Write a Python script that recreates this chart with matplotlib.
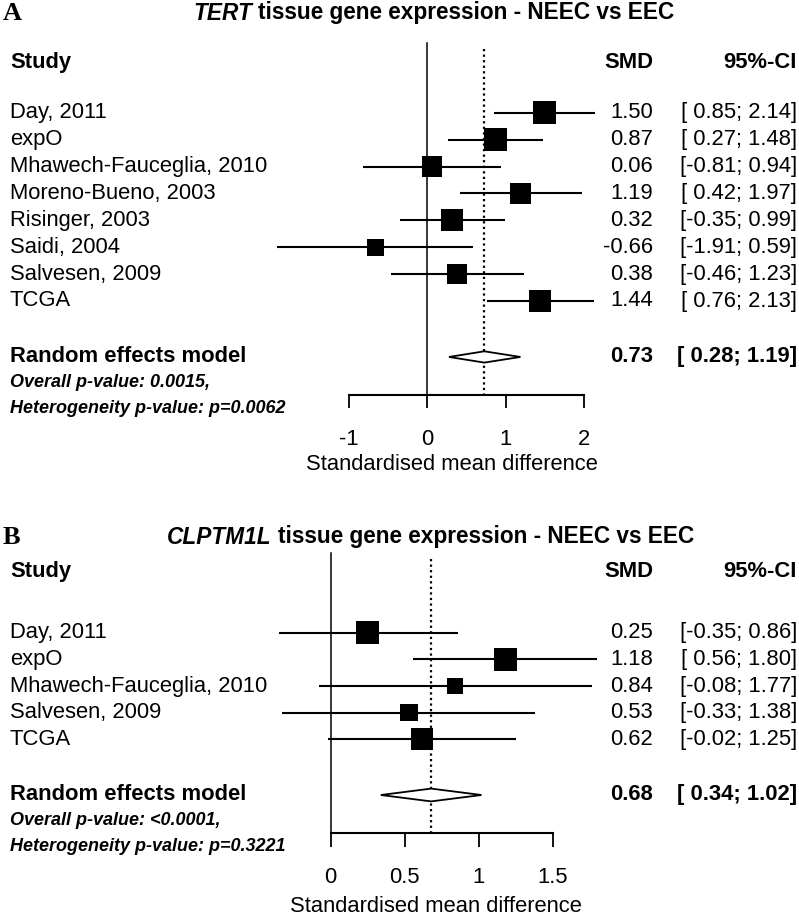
import matplotlib
matplotlib.use("Agg")
import matplotlib.pyplot as plt
import matplotlib.transforms as mtransforms
from matplotlib.patches import Polygon
import numpy as np

plt.rcParams['font.family'] = ['Liberation Sans', 'DejaVu Sans']

# ---- data: panel A (TERT) ----
studies_a = ["Day, 2011", "expO", "Mhawech-Fauceglia, 2010", "Moreno-Bueno, 2003",
             "Risinger, 2003", "Saidi, 2004", "Salvesen, 2009", "TCGA"]
smd_a = [1.50, 0.87, 0.06, 1.19, 0.32, -0.66, 0.38, 1.44]
lo_a = [0.85, 0.27, -0.81, 0.42, -0.35, -1.91, -0.46, 0.76]
hi_a = [2.14, 1.48, 0.94, 1.97, 0.99, 0.59, 1.23, 2.13]
weight_a = [14.4, 14.8, 11.2, 12.4, 13.6, 8.1, 11.6, 13.9]   # estimated %
model_a = (0.73, 0.28, 1.19)
pval_a = "0.0015"
het_a = "0.0062"
ticks_a = [-1, 0, 1, 2]

# ---- data: panel B (CLPTM1L) ----
studies_b = ["Day, 2011", "expO", "Mhawech-Fauceglia, 2010", "Salvesen, 2009", "TCGA"]
smd_b = [0.25, 1.18, 0.84, 0.53, 0.62]
lo_b = [-0.35, 0.56, -0.08, -0.33, -0.02]
hi_b = [0.86, 1.80, 1.77, 1.38, 1.25]
weight_b = [24.8, 24.8, 12.8, 14.4, 23.2]   # estimated %
model_b = (0.68, 0.34, 1.02)
pval_b = "<0.0001"
het_b = "0.3221"
ticks_b = [0, 0.5, 1, 1.5]

W, H = 799, 917
FS = 15.8
fig = plt.figure(figsize=(W / 100, H / 100), dpi=100)


def fmt_ci(lo, hi):
    a = f"{lo:.2f}" if lo < 0 else f" {lo:.2f}"
    b = f"{hi:.2f}" if hi < 0 else f" {hi:.2f}"
    return f"[{a};{b}]"


def forest(ax, studies, smd, lo, hi, weight, model, pval, het, ticks,
           gap, tick_len, dia_h, label_x, label_dy):
    tr = mtransforms.blended_transform_factory(fig.transFigure, ax.transData)
    n = len(studies)
    rows = np.arange(n)
    r_model = n - 1 + gap
    r_axis = r_model + 1.43
    r_head = -1.88 if n > 6 else -2.28

    # reference lines
    ax.plot([0, 0], [r_head - 0.7, r_axis], color='black', lw=1.1)
    ax.plot([model[0], model[0]], [r_head - 0.5, r_axis], color='black',
            lw=1.6, dashes=(1.0, 1.5))

    # CI lines and boxes
    ax.hlines(rows, lo, hi, color='black', lw=1.5)
    w = np.array(weight)
    side = 23 * np.sqrt(w / w.max()) * 0.72
    ax.scatter(smd, rows, s=side ** 2, marker='s', color='black', linewidths=0,
               zorder=3)

    # summary diamond
    m, ml, mh = model
    ax.add_patch(Polygon([[ml, r_model], [m, r_model - dia_h], [mh, r_model],
                          [m, r_model + dia_h]], closed=True, facecolor='white',
                         edgecolor='black', lw=1.3, zorder=3))

    # text columns
    ax.text(10 / W, r_head, "Study", transform=tr, fontsize=FS, fontweight='bold',
            va='center')
    ax.text(653 / W, r_head, "SMD", transform=tr, fontsize=FS, fontweight='bold',
            va='center', ha='right')
    ax.text(797 / W, r_head, "95%-CI", transform=tr, fontsize=FS,
            fontweight='bold', va='center', ha='right')
    for i in range(n):
        ax.text(10 / W, rows[i], studies[i], transform=tr, fontsize=FS, va='center')
        ax.text(653 / W, rows[i], f"{smd[i]:.2f}", transform=tr, fontsize=FS,
                va='center', ha='right')
        ax.text(797 / W, rows[i], fmt_ci(lo[i], hi[i]), transform=tr, fontsize=FS,
                va='center', ha='right')
    ax.text(10 / W, r_model, "Random effects model", transform=tr, fontsize=FS,
            fontweight='bold', va='center')
    ax.text(653 / W, r_model, f"{m:.2f}", transform=tr, fontsize=FS,
            fontweight='bold', va='center', ha='right')
    ax.text(797 / W, r_model, fmt_ci(ml, mh), transform=tr, fontsize=FS,
            fontweight='bold', va='center', ha='right')
    ax.text(10 / W, r_model + 0.94, f"Overall p-value: {pval},", transform=tr,
            fontsize=13, fontweight='bold', fontstyle='italic', va='center')
    ax.text(10 / W, r_model + 1.92, f"Heterogeneity p-value: p={het}",
            transform=tr, fontsize=13, fontweight='bold', fontstyle='italic',
            va='center')

    # x axis
    for s in ['top', 'left', 'right']:
        ax.spines[s].set_visible(False)
    ax.spines['bottom'].set_position(('data', r_axis))
    ax.spines['bottom'].set_bounds(ticks[0], ticks[-1])
    ax.spines['bottom'].set_linewidth(1.5)
    ax.set_yticks([])
    ax.set_xticks(ticks)
    ax.set_xticklabels([f"{t:g}" for t in ticks])
    ax.tick_params(axis='x', direction='out', length=tick_len, width=1.3,
                   pad=14.5, labelsize=FS)
    ax.text(label_x, r_axis + label_dy, "Standardised mean difference",
            fontsize=FS, ha='center', va='center')
    ax.patch.set_visible(False)


# panel A axes: px = 427 + 78.5*x, row r at 112.7 + 26.9*r (pixels from top)
ax_a = fig.add_axes([0, 1 - 480 / H, 1, 480 / H])
ax_a.set_xlim(-427 / 78.5, (W - 427) / 78.5)
ax_a.set_ylim((480 - 112.7) / 26.9, -112.7 / 26.9)
forest(ax_a, studies_a, smd_a, lo_a, hi_a, weight_a, model_a, pval_a, het_a,
       ticks_a, gap=2.08, tick_len=9.4, dia_h=0.21, label_x=0.32, label_dy=2.55)

# panel B axes: px = 330.5 + 148*x, row r at 632.7 + 26.65*r
ax_b = fig.add_axes([0, 0, 1, 437 / H])
ax_b.set_xlim(-330.5 / 148, (W - 330.5) / 148)
ax_b.set_ylim((917 - 632.7) / 26.65, (480 - 632.7) / 26.65)
forest(ax_b, studies_b, smd_b, lo_b, hi_b, weight_b, model_b, pval_b, het_b,
       ticks_b, gap=2.09, tick_len=10, dia_h=0.24, label_x=0.71, label_dy=2.75)

# titles
for ypx, letter, gene, x_gene, x_rest in [(13, "A", "TERT", 252, 258),
                                          (537, "B", "CLPTM1L", 272, 278)]:
    yf = 1 - ypx / H
    fig.text(3 / W, yf, letter, family=['Liberation Serif', 'DejaVu Serif'],
             fontweight='bold', fontsize=19, va='center')
    fig.text(x_gene / W, yf, gene, fontweight='bold', fontstyle='italic',
             fontsize=16.3, va='center', ha='right')
    fig.text(x_rest / W, yf, "tissue gene expression - NEEC vs EEC",
             fontweight='bold', fontsize=16.3, va='center', ha='left')

fig.savefig("out.png", dpi=100, facecolor='white')
